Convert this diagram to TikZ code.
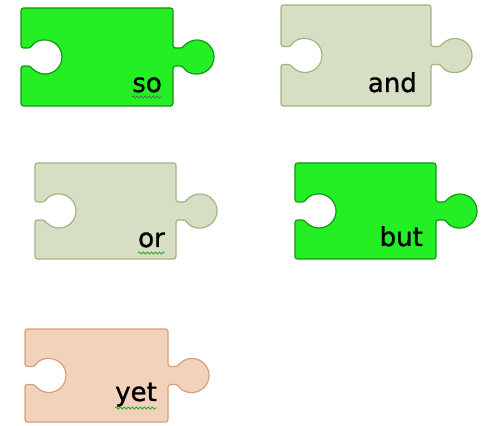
\documentclass[tikz,border=0pt]{standalone}
\usepackage{fontspec}
\usetikzlibrary{decorations.pathmorphing}
\newfontfamily\wordfont[FakeBold=1.2]{DejaVu Sans}
\definecolor{limefill}{RGB}{36,238,36}
\definecolor{limeedge}{RGB}{22,150,22}
\definecolor{sagefill}{RGB}{214,222,196}
\definecolor{sageedge}{RGB}{160,182,128}
\definecolor{peachfill}{RGB}{242,210,186}
\definecolor{peachedge}{RGB}{212,160,124}
\definecolor{squiggreen}{RGB}{40,170,40}
\definecolor{squigolive}{RGB}{90,110,70}
% x0, bottom, right, top
\newcommand\piecepath[4]{(#1,#2) -- (#3,#2) -- (#3,{(#2+#4)/2-9}) -- ({#3+9.6},{(#2+#4)/2-9})
  arc[start angle=212,end angle=508,radius=17] -- (#3,{(#2+#4)/2+9}) -- (#3,#4) -- (#1,#4)
  -- (#1,{(#2+#4)/2+9}) -- ({#1+9.6},{(#2+#4)/2+9})
  arc[start angle=148,end angle=-148,radius=17] -- (#1,{(#2+#4)/2-9}) -- cycle}
\tikzset{
  piece/.style={line width=1.2pt,rounded corners=2.5pt,line join=round},
  greenpiece/.style={piece,fill=limefill,draw=limeedge},
  sagepiece/.style={piece,fill=sagefill,draw=sageedge},
  peachpiece/.style={piece,fill=peachfill,draw=peachedge},
  word/.style={font=\wordfont\fontsize{26}{30}\selectfont,inner sep=0pt,anchor=base east},
  squiggle/.style={draw=#1,line width=0.8pt,decorate,decoration={snake,segment length=4pt,amplitude=1pt}}
}

\begin{document}
\begin{tikzpicture}[x=1pt,y=1pt]

\useasboundingbox (0,0) rectangle (481,425);

\draw[greenpiece] \piecepath{21}{319}{173}{417};
\node[word] (so) at (162,333) {so};
\draw[squiggle=squigolive] ([yshift=-5]so.base west) -- ([yshift=-5]so.base east);

\draw[sagepiece] \piecepath{281}{319}{431}{420};
\node[word] (and) at (417,333) {and};

\draw[sagepiece] \piecepath{35}{166}{176}{262};
\node[word] (or) at (165,178) {or};
\draw[squiggle=squiggreen] ([yshift=-6]or.base west) -- ([yshift=-6]or.base east);

\draw[greenpiece] \piecepath{295}{166}{436}{262};
\node[word] (but) at (423,179) {but};

\draw[peachpiece] \piecepath{25}{3}{168}{96};
\node[word] (yet) at (157,24) {yet};
\draw[squiggle=squiggreen] ([yshift=-7]yet.base west) -- ([yshift=-7]yet.base east);

\end{tikzpicture}
\end{document}
